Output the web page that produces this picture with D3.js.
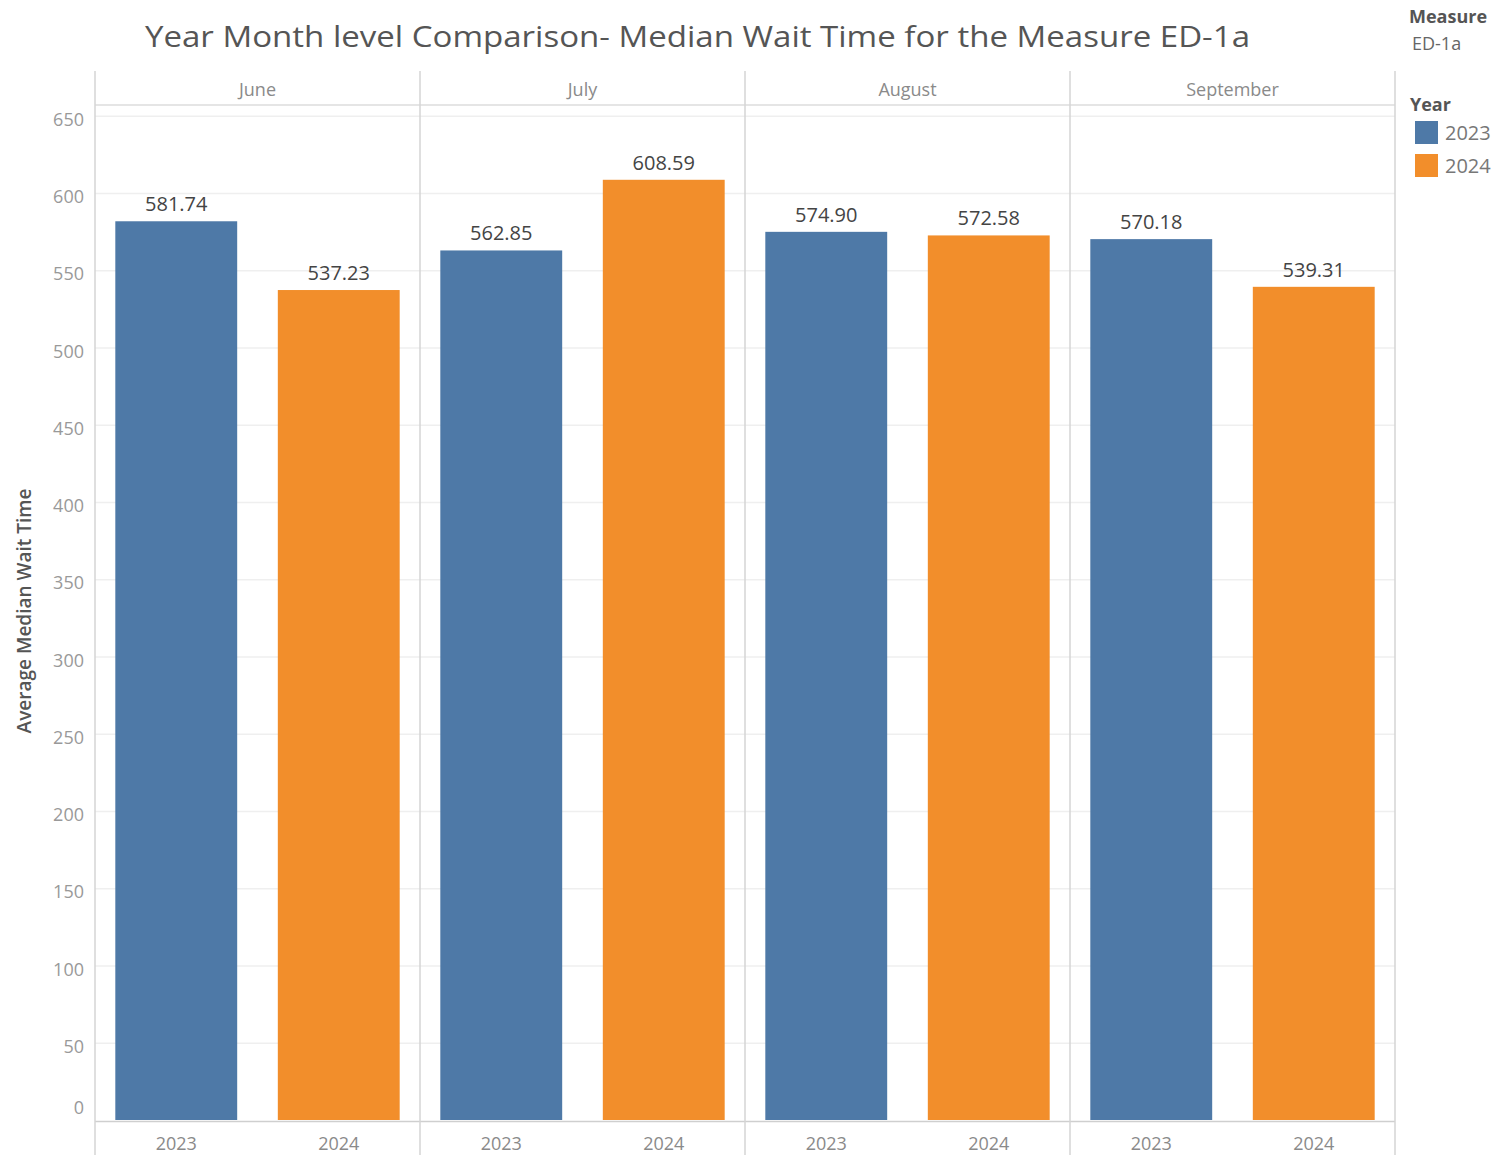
<!DOCTYPE html>
<html>
<head>
<meta charset="utf-8">
<script src="https://cdn.jsdelivr.net/npm/d3@7"></script>
<style>
  body { margin: 0; background: #fff; }
  svg { display: block; font-family: "Open Sans", sans-serif; }
</style>
</head>
<body>
<div id="chart"></div>
<script>
// chart values
var months = ["June", "July", "August", "September"];
var years = ["2023", "2024"];
var values2023 = [581.74, 562.85, 574.90, 570.18];
var values2024 = [537.23, 608.59, 572.58, 539.31];
var yTicks = [0, 50, 100, 150, 200, 250, 300, 350, 400, 450, 500, 550, 600, 650];
var colors = ["#4e79a7", "#f28e2b"];

var width = 1496, height = 1155;
var plotLeft = 95, plotRight = 1395, plotTop = 105, plotBottom = 1120;

var svg = d3.select("#chart").append("svg")
    .attr("width", width)
    .attr("height", height);

//Scales for the panels, years inside a panel and the values.
var x0 = d3.scaleBand().domain(months).range([plotLeft, plotRight]);
var x1 = d3.scaleBand().domain(years).range([0, x0.bandwidth()])
    .paddingInner(0.25).paddingOuter(0.125);
var y = d3.scaleLinear().domain([0, 657]).range([plotBottom, plotTop]);
var color = d3.scaleOrdinal().domain(years).range(colors);

var rows = [];
months.forEach(function(m, i) {
    rows.push({month: m, year: "2023", value: values2023[i]});
    rows.push({month: m, year: "2024", value: values2024[i]});
});

//Title
svg.append("text")
    .attr("x", 145).attr("y", 47)
    .attr("font-size", 30)
    .attr("fill", "#555")
    .attr("textLength", 1105)
    .attr("lengthAdjust", "spacingAndGlyphs")
    .text("Year Month level Comparison- Median Wait Time for the Measure ED-1a");

//Gridlines
svg.append("g").selectAll("line")
    .data(yTicks.filter(function(d) { return d > 0; }))
    .enter().append("line")
    .attr("x1", plotLeft).attr("x2", plotRight)
    .attr("y1", function(d) { return y(d) + 0.5; })
    .attr("y2", function(d) { return y(d) + 0.5; })
    .attr("stroke", "#efefef").attr("stroke-width", 1.5);

//Header line and zero line
svg.append("line").attr("x1", plotLeft).attr("x2", plotRight).attr("y1", 105).attr("y2", 105)
    .attr("stroke", "#dcdcdc").attr("stroke-width", 1.5);
svg.append("line").attr("x1", plotLeft).attr("x2", plotRight).attr("y1", 1121.5).attr("y2", 1121.5)
    .attr("stroke", "#cfcfcf").attr("stroke-width", 1.5);

//Panel dividers
var dividers = months.map(function(m) { return x0(m); }).concat([plotRight]);
svg.append("g").selectAll("line")
    .data(dividers)
    .enter().append("line")
    .attr("x1", function(d) { return d; }).attr("x2", function(d) { return d; })
    .attr("y1", 71).attr("y2", height)
    .attr("stroke", "#d4d4d4").attr("stroke-width", 1.5);

//Month headers
svg.append("g").selectAll("text")
    .data(months)
    .enter().append("text")
    .attr("x", function(d) { return x0(d) + x0.bandwidth() / 2; })
    .attr("y", 96)
    .attr("text-anchor", "middle")
    .attr("font-size", 18)
    .attr("fill", "#8a8a8a")
    .text(function(d) { return d; });

//Bars
svg.append("g").selectAll("rect")
    .data(rows)
    .enter().append("rect")
    .attr("x", function(d) { return x0(d.month) + x1(d.year); })
    .attr("width", x1.bandwidth())
    .attr("y", function(d) { return y(d.value); })
    .attr("height", function(d) { return y(0) - y(d.value); })
    .attr("fill", function(d) { return color(d.year); });

//Value labels
svg.append("g").selectAll("text")
    .data(rows)
    .enter().append("text")
    .attr("x", function(d) { return x0(d.month) + x1(d.year) + x1.bandwidth() / 2; })
    .attr("y", function(d) { return y(d.value) - 10; })
    .attr("text-anchor", "middle")
    .attr("font-size", 20)
    .attr("fill", "#444")
    .text(function(d) { return d3.format(".2f")(d.value); });

//Y axis labels, the bottom one is kept inside the pane.
svg.append("g").selectAll("text")
    .data(yTicks)
    .enter().append("text")
    .attr("x", 84)
    .attr("y", function(d) { return Math.min(y(d) + 10, 1114); })
    .attr("text-anchor", "end")
    .attr("font-size", 18)
    .attr("fill", "#999")
    .text(function(d) { return d; });

//X axis labels
svg.append("g").selectAll("text")
    .data(rows)
    .enter().append("text")
    .attr("x", function(d) { return x0(d.month) + x1(d.year) + x1.bandwidth() / 2; })
    .attr("y", 1150)
    .attr("text-anchor", "middle")
    .attr("font-size", 18)
    .attr("fill", "#8a8a8a")
    .text(function(d) { return d.year; });

//Axis title
svg.append("text")
    .attr("transform", "translate(31,611) rotate(-90)")
    .attr("text-anchor", "middle")
    .attr("font-size", 19)
    .attr("font-weight", 600)
    .attr("fill", "#555")
    .text("Average Median Wait Time");

//Legend
var legend = svg.append("g");
legend.append("text").attr("x", 1409).attr("y", 23)
    .attr("font-size", 18).attr("font-weight", 700).attr("fill", "#555").text("Measure");
legend.append("text").attr("x", 1412).attr("y", 50)
    .attr("font-size", 18).attr("fill", "#666").text("ED-1a");
legend.append("text").attr("x", 1410).attr("y", 111)
    .attr("font-size", 18).attr("font-weight", 700).attr("fill", "#555").text("Year");

var items = legend.selectAll(".item")
    .data(years)
    .enter().append("g")
    .attr("transform", function(d, i) { return "translate(1415," + (121 + i * 33) + ")"; });
items.append("rect").attr("width", 23).attr("height", 23)
    .attr("fill", function(d) { return color(d); });
items.append("text").attr("x", 30).attr("y", 19)
    .attr("font-size", 20).attr("fill", "#777")
    .text(function(d) { return d; });
</script>
</body>
</html>
